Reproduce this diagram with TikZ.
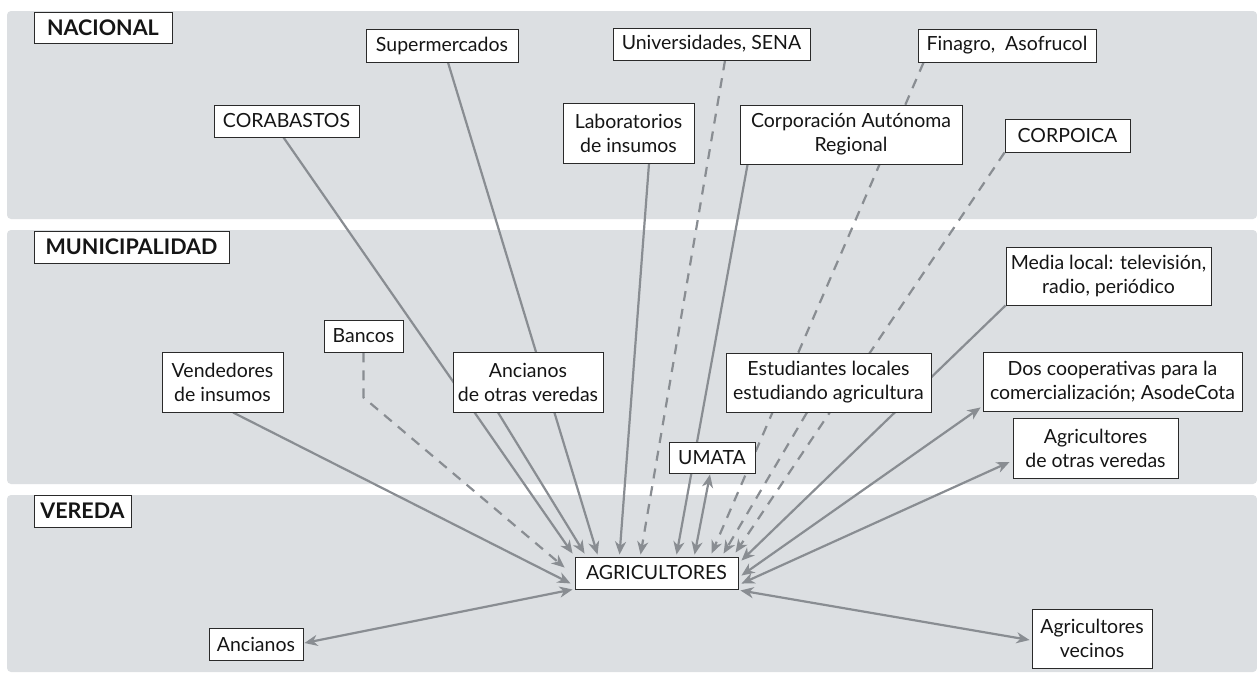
\documentclass[tikz,border=0pt]{standalone}
\usepackage{fontspec}
\setmainfont{Lato}
\usetikzlibrary{arrows.meta,calc}
\pgfdeclarelayer{bands}
\pgfdeclarelayer{edges}
\pgfsetlayers{bands,edges,main}
\definecolor{bandcol}{HTML}{DCDFE2}
\definecolor{conncol}{HTML}{898D92}
\definecolor{boxline}{HTML}{2A2A2A}
\definecolor{ink}{HTML}{151515}
\tikzset{
  box/.style={draw=boxline, line width=0.9pt, fill=white, inner sep=0pt,
    align=center, text=ink, font=\fontsize{19.5}{24}\selectfont},
  lvl/.style={box, font=\fontsize{21.5}{24}\selectfont\bfseries},
  tip/.tip={Stealth[length=13pt,width=11pt,inset=4pt]},
  link/.style={draw=conncol, line width=2.2pt, -tip},
  dlink/.style={link, dash pattern=on 10pt off 8pt},
  both/.style={draw=conncol, line width=2.2pt, tip-tip},
  band/.style={fill=bandcol, rounded corners=4pt}
}
\begin{document}
\begin{tikzpicture}[x=1pt, y=-1pt]
\useasboundingbox (0,0) rectangle (1257,672);
\begin{pgfonlayer}{bands}
  \fill[white] (0,0) rectangle (1257,672);
  \path[band] (7,11) rectangle (1257,219);
  \path[band] (7,230) rectangle (1257,484);
  \path[band] (7,495) rectangle (1257,672);
\end{pgfonlayer}
% level labels
\node[lvl, minimum width=138pt, minimum height=31pt] (nac) at (103,27.5) {NACIONAL};
\node[lvl, minimum width=195pt, minimum height=32pt] (mun) at (131.5,247) {MUNICIPALIDAD};
\node[lvl, minimum width=97pt, minimum height=32pt] (ver) at (82.5,511) {VEREDA};
% nacional
\node[box, minimum width=152pt, minimum height=33pt] (super) at (442,45.5) {Supermercados};
\node[box, minimum width=197pt, minimum height=32pt] (univ) at (711.5,44) {Universidades, SENA};
\node[box, minimum width=178pt, minimum height=33pt] (finagro) at (1007,45.5) {Finagro, \ Asofrucol};
\node[box, minimum width=145pt, minimum height=32pt] (corab) at (286.5,121) {CORABASTOS};
\node[box, minimum width=131pt, minimum height=60pt] (lab) at (628.5,133) {Laboratorios\\de insumos};
\node[box, minimum width=222pt, minimum height=59pt] (corp) at (851,134.5) {Corporación Autónoma\\Regional};
\node[box, minimum width=125pt, minimum height=33pt] (corpoica) at (1067.5,135.5) {CORPOICA};
% municipalidad
\node[box, minimum width=205pt, minimum height=58pt] (media) at (1108.5,276) {Media local: televisión,\\radio, periódico};
\node[box, minimum width=79pt, minimum height=32pt] (bancos) at (363.5,336) {Bancos};
\node[box, minimum width=121pt, minimum height=60pt] (vend) at (222.5,382) {Vendedores\\de insumos};
\node[box, minimum width=150pt, minimum height=60pt] (ancot) at (528,382) {Ancianos\\de otras veredas};
\node[box, minimum width=205pt, minimum height=59pt] (estud) at (828.5,382.5) {Estudiantes locales\\estudiando agricultura};
\node[box, minimum width=259pt, minimum height=59pt] (coop) at (1112.5,381.5) {Dos cooperativas para la\\comercialización; AsodeCota};
\node[box, minimum width=86pt, minimum height=31pt] (umata) at (712,457.5) {UMATA};
\node[box, minimum width=165pt, minimum height=60pt] (agrot) at (1095.5,448) {Agricultores\\de otras veredas};
% vereda
\node[box, minimum width=163pt, minimum height=32pt] (agr) at (656.5,573) {AGRICULTORES};
\node[box, minimum width=94pt, minimum height=32pt] (anc) at (256,644) {Ancianos};
\node[box, minimum width=120pt, minimum height=59pt] (vec) at (1092,638.5) {Agricultores\\vecinos};
% connectors
\begin{pgfonlayer}{edges}
  \draw[link] ($(corab.south)+(-3,0)$) -- ($(agr.north west)+(-2,-3)$);
  \draw[link] ($(super.south)+(6,0)$) -- ($(agr.north west)+(23,-2)$);
  \draw[link] ($(ancot.south)+(-30,0)$) -- ($(agr.north west)+(10,-3)$);
  \draw[link] ($(lab.south)+(20.5,0)$) -- ($(agr.north west)+(45,-2)$);
  \draw[dlink] ($(univ.south)+(13.5,0)$) -- ($(agr.north west)+(66,-2)$);
  \draw[link] ($(corp.south west)+(8,0)$) -- ($(agr.north west)+(102,-2)$);
  \draw[both] ($(agr.north west)+(120,-2)$) -- ($(umata.south)+(-2,1)$);
  \draw[dlink] ($(finagro.south west)+(6,0)$) -- ($(agr.north west)+(137,-3)$);
  \draw[dlink] ($(estud.south)+(-21.5,0)$) -- ($(agr.north west)+(149,-3)$);
  \draw[dlink] (corpoica.south west) -- ($(agr.north west)+(161,-4)$);
  \draw[link] (media.south west) -- ($(agr.north east)+(3,4)$);
  \draw[both] ($(agr.north east)+(3,19)$) -- ($(coop.south west)+(-2,-4)$);
  \draw[both] ($(agr.north east)+(3,27)$) -- ($(agrot.west)+(-3,14)$);
  \draw[both] ($(agr.south east)+(2,1)$) -- ($(vec.west)+(-2,1.5)$);
  \draw[both] ($(agr.south west)+(-2,0)$) -- ($(anc.east)+(1,-1)$);
  \draw[link] ($(vend.south)+(10.5,0)$) -- ($(agr.south west)+(-4,-6)$);
  \draw[dlink] (bancos.south) -- ($(bancos.south)+(0,45)$) -- ($(agr.north west)+(-10,11)$);
\end{pgfonlayer}
\end{tikzpicture}
\end{document}
